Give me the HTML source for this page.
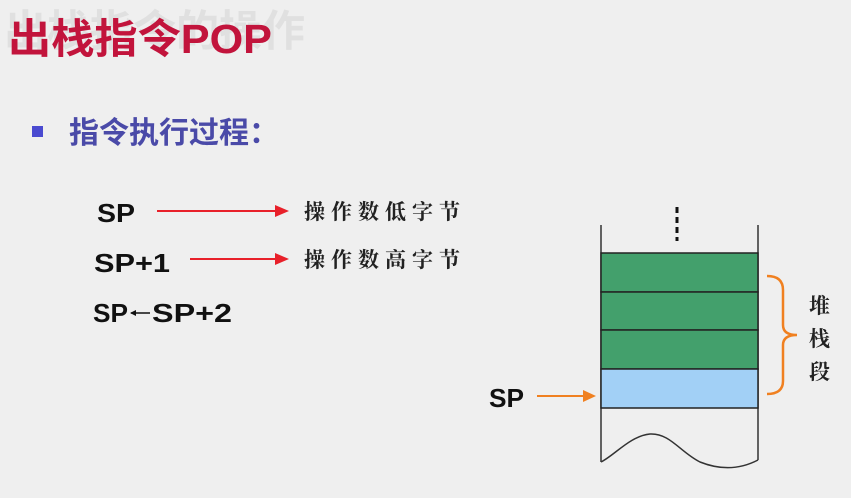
<!DOCTYPE html>
<html><head><meta charset="utf-8"><style>
html,body{margin:0;padding:0;background:#efefef;}
svg{display:block}
</style></head><body>
<svg width="851" height="498" viewBox="0 0 851 498" xmlns="http://www.w3.org/2000/svg">
<rect width="851" height="498" fill="#efefef"/>
<text x="4" y="46" font-family="Liberation Sans, Noto Sans CJK SC, sans-serif" font-size="43" font-weight="bold" fill="#e0e0e0">出栈指令的操作</text>
<text x="8" y="53" font-family="Liberation Sans, Noto Sans CJK SC, sans-serif" font-size="41" font-weight="bold" fill="#c2143c" textLength="264" lengthAdjust="spacingAndGlyphs">出栈指令POP</text>
<rect x="32" y="126" width="11" height="11" fill="#4a4ad0"/>
<text x="69" y="143" font-family="Liberation Sans, Noto Sans CJK SC, sans-serif" font-size="30" font-weight="bold" fill="#4a4aa8">指令执行过程：</text>

<g font-family="Liberation Sans, sans-serif" font-weight="bold" font-size="26" fill="#111">
<text x="97" y="222" textLength="38" lengthAdjust="spacingAndGlyphs">SP</text>
<text x="94" y="272" textLength="76" lengthAdjust="spacingAndGlyphs">SP+1</text>
<text x="93" y="322" textLength="35" lengthAdjust="spacingAndGlyphs">SP</text>
<text x="152" y="322" textLength="80" lengthAdjust="spacingAndGlyphs">SP+2</text>
<text x="489" y="407" textLength="35" lengthAdjust="spacingAndGlyphs">SP</text>
</g>
<line x1="131" y1="313" x2="150" y2="313" stroke="#111" stroke-width="1.5"/>
<polygon points="130,313 136,310 136,316" fill="#111"/>
<g stroke="#e8202a" stroke-width="2">
<line x1="157" y1="211" x2="276" y2="211"/>
<line x1="190" y1="259" x2="276" y2="259"/>
</g>
<polygon points="275,205 289,211 275,217" fill="#e8202a"/>
<polygon points="275,253 289,259 275,265" fill="#e8202a"/>
<g font-family="Noto Serif CJK SC, serif" font-size="21" font-weight="bold" fill="#222" letter-spacing="6">
<text x="304" y="219">操作数低字节</text>
<text x="304" y="267">操作数高字节</text>
</g>

<line x1="537" y1="396" x2="584" y2="396" stroke="#f08020" stroke-width="2"/>
<polygon points="583,390 596,396 583,402" fill="#f08020"/>

<line x1="677" y1="207" x2="677" y2="241" stroke="#111" stroke-width="3" stroke-dasharray="6,4"/>
<g stroke="#333" stroke-width="1.5" fill="none">
<line x1="601" y1="225" x2="601" y2="462"/>
<line x1="758" y1="225" x2="758" y2="460"/>
<path d="M601,462 C615,455 630,436 650,434 C670,433 680,452 700,462 C715,468 735,472 758,460"/>
</g>
<g stroke="#222" stroke-width="1.5">
<rect x="601" y="253" width="157" height="39" fill="#43a06c"/>
<rect x="601" y="292" width="157" height="38" fill="#43a06c"/>
<rect x="601" y="330" width="157" height="39" fill="#43a06c"/>
<rect x="601" y="369" width="157" height="39" fill="#a2d0f6"/>
</g>
<path d="M767,276 Q783,276 783,290 L783,325 Q783,335 797,335 Q783,335 783,345 L783,381 Q783,394 767,394" stroke="#f08020" stroke-width="2.5" fill="none"/>
<g font-family="Noto Serif CJK SC, serif" font-size="21" font-weight="bold" fill="#222">
<text x="809" y="313">堆</text>
<text x="809" y="346">栈</text>
<text x="809" y="379">段</text>
</g>
</svg>
</body></html>
